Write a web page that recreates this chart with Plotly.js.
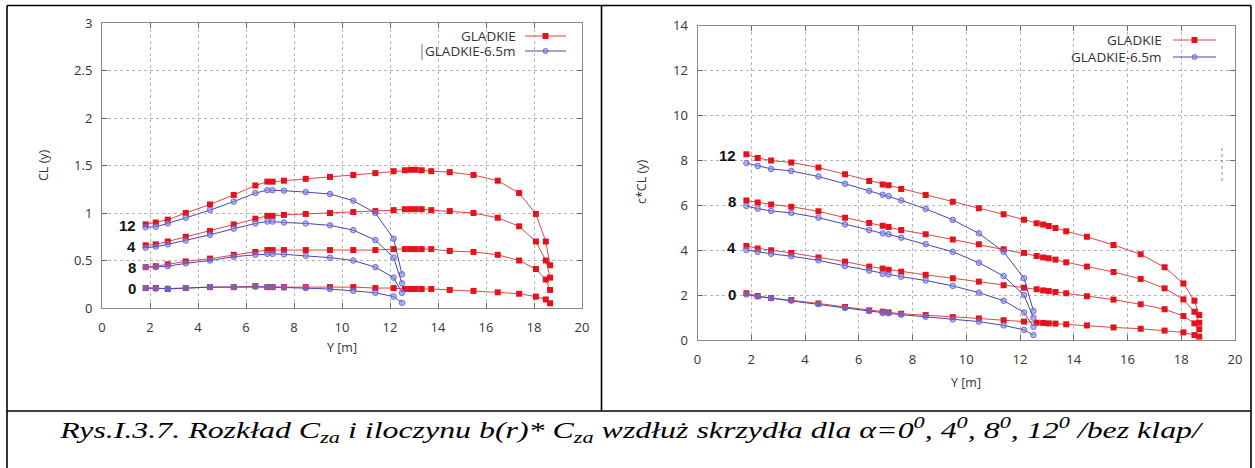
<!DOCTYPE html>
<html>
<head>
<meta charset="utf-8">
<script src="https://cdn.plot.ly/plotly-3.0.1.min.js"></script>
<style>
  html, body { margin: 0; padding: 0; background: #fff; }
  #chart { width: 1255px; height: 468px; }
</style>
</head>
<body>
<div id="chart"></div>
<script>
// Spanwise stations [m]
const yStationsGladkie = [1.82, 2.24, 2.74, 3.49, 4.5, 5.49, 6.39, 6.89, 7.11, 7.58, 8.49, 9.5, 10.47, 11.39, 12.15,
  12.62, 12.86, 13.07, 13.32, 13.72, 14.49, 15.48, 16.49, 17.38, 18.08, 18.49, 18.67];
const yStationsShort = [1.82, 2.24, 2.74, 3.49, 4.5, 5.49, 6.39, 6.89, 7.11, 7.58, 8.49, 9.5, 10.47, 11.39, 12.15, 12.5];

// Curve labels (angle of attack, deg), top to bottom
const curveLabels = ['12', '4', '8', '0'];
const curveLabels2 = ['12', '8', '4', '0'];

// CL(y) - GLADKIE
const clGladkie = [
  [0.88, 0.90, 0.93, 1.00, 1.09, 1.19, 1.29, 1.33, 1.33, 1.34, 1.36, 1.38, 1.40, 1.42, 1.44, 1.45, 1.455, 1.455, 1.45, 1.44, 1.43, 1.40, 1.34, 1.21, 0.99, 0.70, 0.45],
  [0.66, 0.67, 0.70, 0.75, 0.81, 0.88, 0.94, 0.97, 0.97, 0.98, 0.99, 1.00, 1.01, 1.02, 1.03, 1.04, 1.04, 1.04, 1.04, 1.03, 1.02, 1.00, 0.95, 0.86, 0.70, 0.50, 0.32],
  [0.43, 0.44, 0.46, 0.49, 0.52, 0.56, 0.59, 0.61, 0.61, 0.61, 0.61, 0.61, 0.61, 0.61, 0.62, 0.62, 0.62, 0.62, 0.62, 0.62, 0.60, 0.59, 0.56, 0.50, 0.41, 0.30, 0.19],
  [0.21, 0.21, 0.20, 0.21, 0.22, 0.22, 0.23, 0.22, 0.22, 0.22, 0.22, 0.22, 0.22, 0.21, 0.21, 0.20, 0.20, 0.20, 0.20, 0.20, 0.19, 0.18, 0.165, 0.15, 0.12, 0.09, 0.05]
];
// CL(y) - GLADKIE-6.5m
const clShort = [
  [0.85, 0.855, 0.89, 0.95, 1.03, 1.12, 1.21, 1.24, 1.24, 1.235, 1.22, 1.20, 1.13, 1.00, 0.73, 0.355],
  [0.635, 0.645, 0.67, 0.71, 0.77, 0.835, 0.89, 0.91, 0.91, 0.90, 0.89, 0.87, 0.82, 0.715, 0.53, 0.26],
  [0.43, 0.43, 0.44, 0.47, 0.50, 0.54, 0.56, 0.57, 0.57, 0.565, 0.55, 0.53, 0.50, 0.43, 0.32, 0.16],
  [0.21, 0.205, 0.205, 0.21, 0.22, 0.22, 0.225, 0.22, 0.22, 0.215, 0.21, 0.20, 0.18, 0.16, 0.12, 0.055]
];
// c*CL(y) - GLADKIE
const cclGladkie = [
  [8.27, 8.11, 7.99, 7.91, 7.68, 7.38, 7.08, 6.93, 6.89, 6.73, 6.46, 6.16, 5.87, 5.60, 5.36, 5.20, 5.14, 5.08, 4.99, 4.84, 4.60, 4.23, 3.82, 3.24, 2.52, 1.75, 1.11],
  [6.21, 6.12, 6.04, 5.94, 5.73, 5.45, 5.21, 5.09, 5.03, 4.90, 4.71, 4.48, 4.26, 4.04, 3.88, 3.74, 3.68, 3.64, 3.58, 3.46, 3.27, 3.03, 2.72, 2.30, 1.81, 1.26, 0.77],
  [4.19, 4.08, 4.00, 3.88, 3.68, 3.49, 3.27, 3.18, 3.13, 3.04, 2.90, 2.75, 2.60, 2.44, 2.33, 2.26, 2.21, 2.18, 2.14, 2.08, 1.95, 1.80, 1.59, 1.37, 1.07, 0.74, 0.48],
  [2.08, 1.96, 1.87, 1.78, 1.63, 1.47, 1.32, 1.26, 1.23, 1.17, 1.11, 1.02, 0.96, 0.88, 0.82, 0.77, 0.76, 0.74, 0.73, 0.70, 0.65, 0.56, 0.50, 0.42, 0.34, 0.22, 0.15]
];
// c*CL(y) - GLADKIE-6.5m
const cclShort = [
  [7.88, 7.75, 7.62, 7.53, 7.28, 6.96, 6.64, 6.47, 6.41, 6.22, 5.84, 5.35, 4.75, 3.93, 2.75, 1.29],
  [5.97, 5.85, 5.75, 5.66, 5.45, 5.15, 4.90, 4.75, 4.71, 4.56, 4.27, 3.93, 3.44, 2.85, 2.00, 0.99],
  [4.01, 3.93, 3.84, 3.73, 3.55, 3.30, 3.09, 2.95, 2.92, 2.82, 2.65, 2.41, 2.11, 1.75, 1.23, 0.59],
  [2.03, 1.93, 1.86, 1.75, 1.60, 1.43, 1.29, 1.20, 1.19, 1.13, 1.04, 0.92, 0.82, 0.65, 0.45, 0.22]
];

const seriesNames = ['GLADKIE', 'GLADKIE-6.5m'];
const captionText = '<i>Rys.I.3.7. Rozkład C<sub>za</sub> i iloczynu b(r)* C<sub>za</sub> wzdłuż skrzydła dla α=0<sup>0</sup>, 4<sup>0</sup>, 8<sup>0</sup>, 12<sup>0</sup> /bez klap/</i>';

const W = 1255, H = 468;
const px = x => x / W;
const py = y => 1 - y / H;

const RED_LINE = '#d9474a', RED_MK = '#e5121b';
const BLUE_LINE = '#4646a8', BLUE_MK = 'rgba(125,125,235,0.55)', BLUE_MK_EDGE = '#6a6ad8';
const SANS = '"Open Sans", "DejaVu Sans", sans-serif';

const traces = [];
function addSet(xs, rows, xa, ya, red) {
  rows.forEach(vals => {
    traces.push({
      type: 'scatter', mode: 'lines+markers', x: xs, y: vals, xaxis: xa, yaxis: ya,
      showlegend: false, hoverinfo: 'skip',
      line: { color: red ? RED_LINE : BLUE_LINE, width: 1 },
      marker: red
        ? { symbol: 'square', size: 6, color: RED_MK, line: { width: 0 } }
        : { symbol: 'circle', size: 5.5, color: BLUE_MK, line: { color: BLUE_MK_EDGE, width: 1 } }
    });
  });
}
addSet(yStationsGladkie, clGladkie, 'x', 'y', true);
addSet(yStationsShort, clShort, 'x', 'y', false);
addSet(yStationsGladkie, cclGladkie, 'x2', 'y2', true);
addSet(yStationsShort, cclShort, 'x2', 'y2', false);

const axisBase = {
  showgrid: true, gridcolor: '#b5b5b5', griddash: 'dot', gridwidth: 1,
  zeroline: false, showline: true, linecolor: '#8a8a8a', linewidth: 1,
  mirror: 'ticks', ticks: 'inside', ticklen: 5, tickcolor: '#666',
  tickfont: { family: SANS, size: 13, color: '#333' }, fixedrange: true
};
const xTicks = { range: [0, 20], tickvals: [0, 2, 4, 6, 8, 10, 12, 14, 16, 18, 20], ticklabelstandoff: 7 };

const layout = {
  width: W, height: H, margin: { l: 0, r: 0, t: 0, b: 0 },
  paper_bgcolor: '#fff', plot_bgcolor: '#fff', showlegend: false,
  xaxis: Object.assign({}, axisBase, xTicks, { domain: [px(102), px(582)], anchor: 'y' }),
  yaxis: Object.assign({}, axisBase, { domain: [py(308), py(23)], range: [0, 3], dtick: 0.5, anchor: 'x', ticklabelstandoff: 6 }),
  xaxis2: Object.assign({}, axisBase, xTicks, { domain: [px(697.5), px(1235)], anchor: 'y2' }),
  yaxis2: Object.assign({}, axisBase, { domain: [py(340), py(25.7)], range: [0, 14], dtick: 2, anchor: 'x2', ticklabelstandoff: 6 }),
  shapes: [], annotations: []
};

// Table frame round the two panels and the caption
const frame = { type: 'line', xref: 'paper', yref: 'paper', line: { color: '#000', width: 1.6 } };
layout.shapes.push(Object.assign({}, frame, { x0: px(7), x1: px(1251), y0: py(5.5), y1: py(5.5) }));
layout.shapes.push(Object.assign({}, frame, { x0: px(7), x1: px(7), y0: py(5.5), y1: py(470) }));
layout.shapes.push(Object.assign({}, frame, { x0: px(1251), x1: px(1251), y0: py(5.5), y1: py(470) }));
layout.shapes.push(Object.assign({}, frame, { x0: px(601.5), x1: px(601.5), y0: py(5.5), y1: py(411) }));
layout.shapes.push(Object.assign({}, frame, { x0: px(7), x1: px(1251), y0: py(411), y1: py(411) }));

// Legend keys (text right-aligned, sample line on the right)
function legendKey(textRight, lineX0, lineX1, yc, name, red) {
  layout.annotations.push({ xref: 'paper', yref: 'paper', x: px(textRight), y: py(yc), xanchor: 'right', yanchor: 'middle',
    text: name, showarrow: false, font: { family: SANS, size: 13.5, color: '#333' } });
  layout.shapes.push({ type: 'line', xref: 'paper', yref: 'paper', x0: px(lineX0), x1: px(lineX1), y0: py(yc), y1: py(yc),
    line: { color: red ? RED_LINE : BLUE_LINE, width: 1 } });
  const xm = (lineX0 + lineX1) / 2;
  if (red) {
    layout.shapes.push({ type: 'rect', xref: 'paper', yref: 'paper', x0: px(xm - 3), x1: px(xm + 3), y0: py(yc - 3), y1: py(yc + 3),
      fillcolor: RED_MK, line: { width: 0 } });
  } else {
    layout.shapes.push({ type: 'circle', xref: 'paper', yref: 'paper', x0: px(xm - 2.5), x1: px(xm + 2.5), y0: py(yc - 2.5), y1: py(yc + 2.5),
      fillcolor: BLUE_MK, line: { color: BLUE_MK_EDGE, width: 1 } });
  }
}
legendKey(518, 525, 566, 36, seriesNames[0], true);
legendKey(518, 525, 566, 51, seriesNames[1], false);
legendKey(1164, 1173, 1216, 40, seriesNames[0], true);
legendKey(1164, 1173, 1216, 57, seriesNames[1], false);
// stray marks
layout.shapes.push({ type: 'line', xref: 'paper', yref: 'paper', x0: px(422), x1: px(422), y0: py(44), y1: py(60), line: { color: '#777', width: 1 } });
layout.shapes.push({ type: 'line', xref: 'paper', yref: 'paper', x0: px(1222), x1: px(1222), y0: py(148), y1: py(182), line: { color: '#888', width: 1, dash: 'dot' } });

// Axis titles
const titleFont = { family: SANS, size: 12.5, color: '#333' };
function paperText(x, y, text, extra) {
  layout.annotations.push(Object.assign({ xref: 'paper', yref: 'paper', x: px(x), y: py(y), xanchor: 'center', yanchor: 'middle',
    text: text, showarrow: false, font: titleFont }, extra || {}));
}
paperText(342, 347, 'Y [m]');
paperText(966, 382, 'Y [m]');
paperText(43, 165, 'CL (y)', { textangle: -90 });
paperText(642, 182, 'c*CL (y)', { textangle: -90 });

// Angle-of-attack labels at the root end of each curve pair
const labelFont = { family: '"Liberation Sans", Arial, sans-serif', size: 15, color: '#111' };
curveLabels.forEach((t, i) => {
  layout.annotations.push({ xref: 'x', yref: 'y', x: 1.5, y: (clGladkie[i][0] + clShort[i][0]) / 2, xanchor: 'right', yanchor: 'middle',
    text: '<b>' + t + '</b>', showarrow: false, font: labelFont });
});
curveLabels2.forEach((t, i) => {
  layout.annotations.push({ xref: 'x2', yref: 'y2', x: 1.5, y: cclGladkie[i][0] - 0.05, xanchor: 'right', yanchor: 'middle',
    text: '<b>' + t + '</b>', showarrow: false, font: labelFont });
});

// Caption
const CAPTION_LEFT = 57, CAPTION_RIGHT = 1202;
layout.annotations.push({
  xref: 'paper', yref: 'paper', x: px(CAPTION_LEFT), y: py(430), xanchor: 'left', yanchor: 'middle', showarrow: false,
  text: captionText,
  font: { family: '"Liberation Serif", "Times New Roman", serif', size: 24, color: '#000' }
});

Plotly.newPlot('chart', traces, layout, { staticPlot: true, displayModeBar: false }).then(gd => {
  // widen the caption horizontally so it spans the caption cell
  gd.querySelectorAll('text.annotation-text').forEach(t => {
    if (t.textContent.indexOf('Rys.') !== 0) return;
    const bb = t.getBBox();
    const s = (CAPTION_RIGHT - CAPTION_LEFT) / bb.width;
    t.setAttribute('transform', `translate(${bb.x},0) scale(${s},1) translate(${-bb.x},0)`);
  });
});
</script>
</body>
</html>
